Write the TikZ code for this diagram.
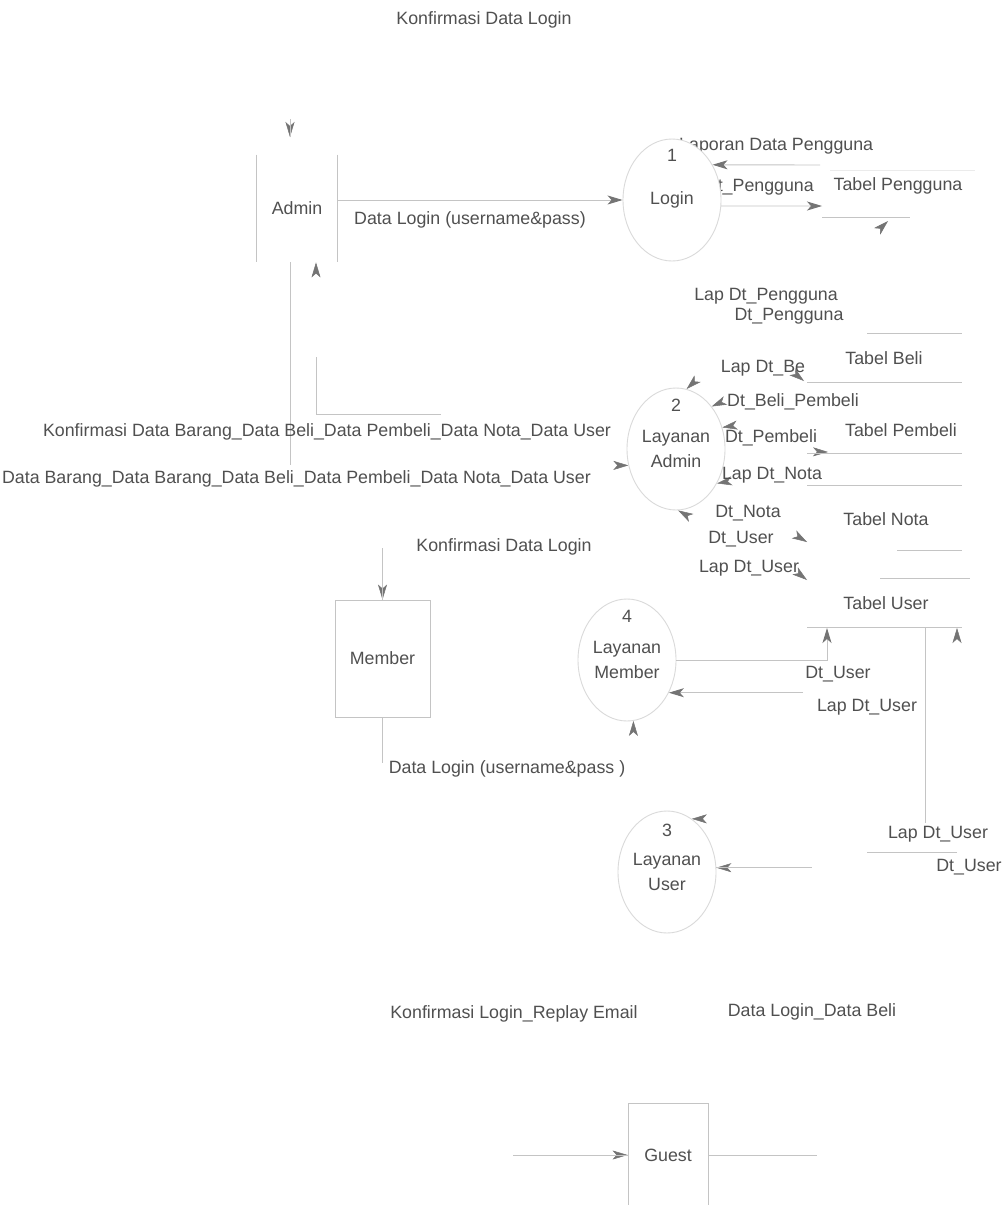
\documentclass[tikz,border=0pt]{standalone}
\usepackage{fontspec}
\setmainfont{Liberation Sans}
\usetikzlibrary{arrows.meta,shapes.geometric}
\pgfdeclarelayer{bg}
\pgfsetlayers{bg,main}
\definecolor{txtc}{HTML}{505050}
\definecolor{linec}{HTML}{C4C4C4}
\definecolor{softc}{HTML}{EBEBEB}
\definecolor{fadec}{HTML}{FFFFFF}
\definecolor{tipc}{HTML}{747474}
\definecolor{ringc}{HTML}{DADADA}
\begin{document}
\begin{tikzpicture}[x=1pt,y=-1pt,
  every node/.style={font=\fontsize{17.8}{25}\selectfont,text=txtc,inner sep=1pt},
  proc/.style={ellipse,draw=ringc,line width=0.9pt,fill=white,minimum width=98pt,
    minimum height=122pt,inner sep=0pt,align=center},
  ent/.style={rectangle,draw=linec,line width=0.9pt,inner sep=0pt},
  side/.style={draw=linec,line width=0.9pt},
  num/.style={inner sep=0pt},
  store/.style={draw=linec,line width=0.9pt},
  flow/.style={draw=linec,line width=0.9pt,
    -{Stealth[length=15pt,width=9pt,inset=4pt,color=tipc]}},
  fadeflow/.style={flow,draw=fadec,line width=0.5pt},
  onl/.style={fill=white,inner sep=2pt}]

\useasboundingbox (0,0) rectangle (1003,1205);

% ---------- page ground and flow labels hidden behind the process bubbles ----------
\begin{pgfonlayer}{bg}
  \fill[white] (0,0) rectangle (1003,1205);
  \node[anchor=west] (lLapPeng) at (678,146) {Laporan Data Pengguna};
  \node[anchor=east] (lDtPeng) at (815,187) {Dt\_Pengguna};
\end{pgfonlayer}

% ---------- processes ----------
\node[proc] (login)   at (672,200) {Login};
\node[proc] (admin2)  at (676,449) {Layanan\\Admin};
\node[proc] (member4) at (627,660) {Layanan\\Member};
\node[proc] (user3)   at (667,872) {Layanan\\User};
\node[num] (n1) at ([yshift=45pt]login.center) {1};
\node[num] (n2) at ([yshift=44pt]admin2.center) {2};
\node[num] (n4) at ([yshift=44pt]member4.center) {4};
\node[num] (n3) at ([yshift=42pt]user3.center) {3};

% ---------- external entities ----------
\node[ent,draw=none,minimum width=80pt,minimum height=107pt] (admin) at (297,208.5) {Admin};
\draw[side] (admin.north west) -- (admin.south west)
            (admin.north east) -- (admin.south east);
\node[ent,minimum width=95pt,minimum height=117pt] (member) at (382.5,658.5) {Member};
\node[ent,minimum width=80pt,minimum height=104pt] (guest) at (668,1155) {Guest};

% ---------- data stores ----------
\node (tpeng) at (898,186) {Tabel Pengguna};
\node (tbeli) at (884,358) {Tabel Beli};
\node (tpemb) at (901,430) {Tabel Pembeli};
\node (tnota) at (886,519) {Tabel Nota};
\node (tuser) at (886,603) {Tabel User};
\draw[softc,line width=0.7pt] (830,170) -- (975,170);
\draw[store] (822,217) -- (910,217);
\draw[store] (867,333) -- (962,333);
\draw[store] (807,382) -- (962,382);
\draw[store] (807,453) -- (962,453);
\draw[store] (807,485) -- (962,485);
\draw[store] (897,550) -- (962,550);
\draw[store] (880,578) -- (970,578);
\draw[store] (807,627) -- (962,627);

% store connection points
\coordinate (pgA) at (820,165);
\coordinate (pgB) at (822,206);
\coordinate (pgC) at (888,221);
\coordinate (pgD) at (866,221);
\coordinate (beliBend) at (765,350);
\coordinate (beliIn) at (804,381);
\coordinate (beliOut) at (800,368);
\coordinate (pembOut) at (807,414);
\coordinate (pembIn) at (828,452);
\coordinate (notaOut) at (807,468);
\coordinate (notaIn) at (807,542);
\coordinate (userIn) at (807,580);
\coordinate (userOut) at (820,592);
\coordinate (tuA) at (827,628);
\coordinate (tuB) at (803,628);
\coordinate (tuC) at (925,628);
\coordinate (tuD) at (957,628);
\coordinate (adTop) at (290,137);
\coordinate (kb) at ([xshift=19pt]admin.south);
\coordinate (db) at ([xshift=-7pt]admin.south);

% ---------- connector runs that have faded out (drawn underneath) ----------
\begin{pgfonlayer}{bg}
  \draw[fadeflow] (login.north) -- ++(0,-120) -| (adTop);
  \draw[fadeflow] (admin2.62) -- (pgC);
  \draw[fadeflow] (pgD) -- (admin2.80);
  \draw[fadeflow] (admin2.72) -- (beliBend) -- (beliIn);
  \draw[fadeflow] (beliOut) -- (admin2.50);
  \draw[fadeflow] (pembOut) -- (admin2.25);
  \draw[fadeflow] (admin2.-2) -- (pembIn);
  \draw[fadeflow] (notaOut) -- (admin2.-40);
  \draw[fadeflow] (admin2.-45) -- (notaIn);
  \draw[fadeflow] (admin2.-62) -- (userIn);
  \draw[fadeflow] (userOut) -- (admin2.-88);
  \draw[fadeflow] (admin2.140) -| (kb);
  \draw[fadeflow] (db) |- (admin2.199);
  \draw[fadeflow] (member4.north) -- ++(0,-53) -| (member.north);
  \draw[fadeflow] (member.south) -- ++(0,52) -| (member4.-84);
  \draw[fadec,line width=0.5pt] (tuB) -- (tuB |- member4.-38);
  \draw[fadeflow] (tuC) |- (user3.65);
  \draw[fadeflow] (user3.23) -| (tuD);
  \draw[fadeflow] (guest.east) -- ++(102,0) |- (user3.5);
  \draw[fadeflow] (user3.west) -- ++(-103,0) |- (guest.west);
\end{pgfonlayer}

% ---------- Admin <-> Login ----------
\draw[flow] (admin.east |- login.west) -- (login.west);
\draw[side] (adTop) -- ++(0,-18);

% ---------- Login <-> Tabel Pengguna ----------
\draw[flow] (pgA) -- (login.41);
\draw[flow] (login.-7) -- (pgB);

% ---------- Admin <-> Layanan Admin ----------
\draw[side] (kb |- admin2.140) -- ++(0,-58) (kb |- admin2.140) -- ++(125,0);
\draw[side] (db) -- (db |- admin2.199);

% ---------- Member <-> Layanan Member ----------
\draw[side] (member.north) -- ++(0,-52);
\draw[side] (member.south) -- ++(0,46);

% ---------- Layanan Member <-> Tabel User ----------
\draw[flow] (member4.east) -| (tuA);
\draw[flow] (tuB |- member4.-38) -- (member4.-38);

% ---------- Layanan User <-> Tabel User ----------
\draw[side] (tuC) -- ++(0,195);
\draw[side] (tuD |- user3.23) -- ++(-90,0);

% ---------- Guest <-> Layanan User ----------
\draw[side] (guest.east) -- ++(109,0);
\draw[side] (user3.5) -- ++(96,0);
\draw[side] (guest.west) -- ++(-115,0);

% ---------- flow labels ----------
\node (lKonfTop) at (484,20) {Konfirmasi Data Login};
\node (lDataLogin) at (470,220) {Data Login (username\&pass)};
\node (lLapDtPeng) at (766,296) {Lap Dt\_Pengguna};
\node (lDtPeng2) at (789,316) {Dt\_Pengguna};
\node (lLapBe) at (763,368) {Lap Dt\_Be};
\node (lBeliPemb) at (793,402) {Dt\_Beli\_Pembeli};
\node (lDtPemb) at (771,438) {Dt\_Pembeli};
\node (lLapNota) at (772,475) {Lap Dt\_Nota};
\node (lDtNota) at (748,513) {Dt\_Nota};
\node (lDtUserA) at (741,539) {Dt\_User};
\node (lLapUserA) at (749,568) {Lap Dt\_User};
\node (lDtUserM) at (838,674) {Dt\_User};
\node (lLapUserM) at (867,707) {Lap Dt\_User};
\node (lLapUserU) at (938,834) {Lap Dt\_User};
\node (lDtUserU) at (969,867) {Dt\_User};
\node (lKonfBar) at (327,432) {Konfirmasi Data Barang\_Data Beli\_Data Pembeli\_Data Nota\_Data User};
\node[anchor=east] (lDataBar) at (592,479) {Data Barang\_Data Barang\_Data Beli\_Data Pembeli\_Data Nota\_Data User};
\node (lKonfMem) at (504,547) {Konfirmasi Data Login};
\node (lLoginMem) at (507,769) {Data Login (username\&pass )};
\node (lKonfGuest) at (514,1014) {Konfirmasi Login\_Replay Email};
\node (lLoginGuest) at (812,1012) {Data Login\_Data Beli};
\end{tikzpicture}
\end{document}
